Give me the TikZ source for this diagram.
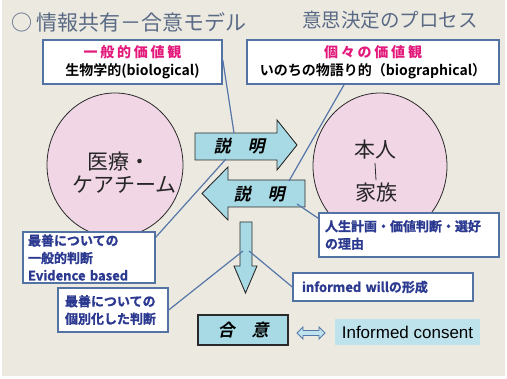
\documentclass[tikz,border=0pt]{standalone}
\usepackage{fontspec}
\setmainfont{Noto Sans CJK JP}[BoldFont={Noto Sans CJK JP Bold}]
\newfontfamily\jpbi{Noto Sans CJK JP Bold}[FakeSlant=0.22]
\newfontfamily\jpheavy{Noto Sans CJK JP Bold}[FakeBold=1.2]
\newfontfamily\jpmag{Noto Sans CJK JP Bold}[LetterSpace=20]
\newfontfamily\arialf{Liberation Sans}
\usetikzlibrary{shapes.geometric}
\definecolor{bgc}{HTML}{ECEAE0}
\definecolor{titlec}{HTML}{5A6A86}
\definecolor{boxc}{HTML}{5273A3}
\definecolor{linec}{HTML}{5676A8}
\definecolor{magc}{HTML}{E3197B}
\definecolor{navyc}{HTML}{2B3990}
\definecolor{pinkc}{HTML}{F1D6E6}
\definecolor{cyanc}{HTML}{A8DAE6}
\definecolor{icc}{HTML}{BEE3EC}
\definecolor{darkc}{HTML}{2A2A2A}
\tikzset{
  topbox/.style={draw=boxc, line width=1.6pt, fill=white, align=center, inner sep=0pt,
    font=\bfseries\fontsize{14}{18}\selectfont},
  wbox/.style={draw=boxc, line width=1.4pt, fill=white, align=left, inner ysep=1pt,
    font=\jpheavy\fontsize{13}{17.5}\selectfont, text=navyc},
  circ/.style={ellipse, draw=darkc, line width=0.8pt, fill=pinkc, inner sep=0pt},
  circtxt/.style={font=\fontsize{21}{21}\selectfont, text=black!85, inner sep=0pt},
  arrowshape/.style={draw=darkc, line width=0.9pt, fill=cyanc, line join=miter},
  arrtxt/.style={font=\jpbi\fontsize{17}{17}\selectfont, inner sep=0pt},
  conn/.style={draw=linec, line width=1.2pt}
}
\begin{document}
\begin{tikzpicture}[x=1pt,y=-1pt]
\useasboundingbox (0,0) rectangle (507,379);
\fill[white] (0,0) rectangle (507,379);
\fill[bgc] (2,0) rectangle (505,376);

% titles
\node[anchor=west, text=titlec, font=\fontsize{21}{21}\selectfont, inner sep=0pt] (title) at (11,22) {○ 情報共有－合意モデル};
\node[anchor=west, text=titlec, font=\fontsize{19.5}{20}\selectfont, inner sep=0pt] (proc) at (302,20) {意思決定のプロセス};

% circles
\node[circ, minimum width=136pt, minimum height=144pt] (team) at (115,165) {};
\node[circ, minimum width=134pt, minimum height=146pt] (person) at (380,166) {};
\node[circtxt, anchor=west] (iryo) at (87,162) {医療・};
\node[circtxt] (care) at (124.5,185) {ケアチーム};
\node[circtxt] (honnin) at (375,150) {本人};
\node[circtxt] (kazoku) at (376,193) {家族};
\draw[darkc, line width=0.8pt] ([yshift=-3pt]honnin.south) -- ([yshift=3pt]kazoku.north);

% top boxes
\node[topbox, minimum width=179pt, minimum height=44pt] (b1) at (132.5,62)
  {{\jpmag\color{magc}一般的価値観}\\生物学的(biological)};
\node[topbox, minimum width=252pt, minimum height=44pt] (b2) at (373,62)
  {{\jpmag\color{magc}個々の価値観}\\いのちの物語り的（biographical）};

% arrows
\path[arrowshape] (195,133) -- (277,133) -- (277,120) -- (297,145) -- (277,170) -- (277,160) -- (195,160) -- cycle;
\node[arrtxt] (exp1) at (239,146) {説\quad 明};
\path[arrowshape] (305,180) -- (228,180) -- (228,167) -- (202,193.5) -- (228,220) -- (228,207) -- (305,207) -- cycle;
\node[arrtxt] (exp2) at (259,194) {説\quad 明};
\path[arrowshape] (240,222) -- (252,222) -- (252,266) -- (257,266) -- (245.5,293) -- (234,266) -- (240,266) -- cycle;
\coordinate (down) at (246,251);

\coordinate (a1top) at (234,133);
\coordinate (a1bot) at (226,159);
\coordinate (a2top) at (289,181);
\coordinate (a2bot) at (297,204);

% lower boxes
\node[wbox, text width=122pt, inner xsep=5pt, minimum height=51pt] (ev) at (89,257.5)
  {最善についての\\一般的判断\\Evidence based};
\node[wbox, text width=96pt, inner xsep=7pt, minimum height=44pt] (indiv) at (113,310)
  {最善についての\\個別化した判断};
\node[wbox, text width=168pt, inner xsep=6pt, minimum height=44pt] (life) at (409,235)
  {人生計画・価値判断・選好\\の理由};
\node[wbox, text width=162pt, inner xsep=9pt, minimum height=28pt] (will) at (383,287)
  {informed willの形成};

% agreement
\node[draw=darkc, line width=1.2pt, fill=cyanc, minimum width=90pt, minimum height=30pt, inner sep=0pt, font=\jpbi\fontsize{17}{17}\selectfont] (agree) at (243,330) {合\quad 意};
\node[fill=icc, minimum width=145pt, minimum height=26pt, inner sep=0pt, font=\arialf\fontsize{17}{17}\selectfont] (ic) at (407.5,332) {Informed consent};
\path[draw=linec, fill=icc, line width=0.9pt] (297,333) -- (303,327) -- (303,330.5) -- (319,330.5) -- (319,327) -- (325,333) -- (319,339) -- (319,335.5) -- (303,335.5) -- (303,339) -- cycle;

% connectors
\draw[conn] ([yshift=2pt]b1.east) -- (a1top);
\draw[conn] (b2.south -| 344,0) -- (a2top);
\draw[conn] ([yshift=-6pt]ev.north east) -- (a1bot);
\draw[conn] (a2bot) -- ([yshift=-6pt]life.north west);
\draw[conn] ([xshift=-3pt]down) -- ([yshift=-2pt]indiv.north east |- 0,308);
\draw[conn] ([xshift=3pt]down) -- (will.west);
\end{tikzpicture}
\end{document}
